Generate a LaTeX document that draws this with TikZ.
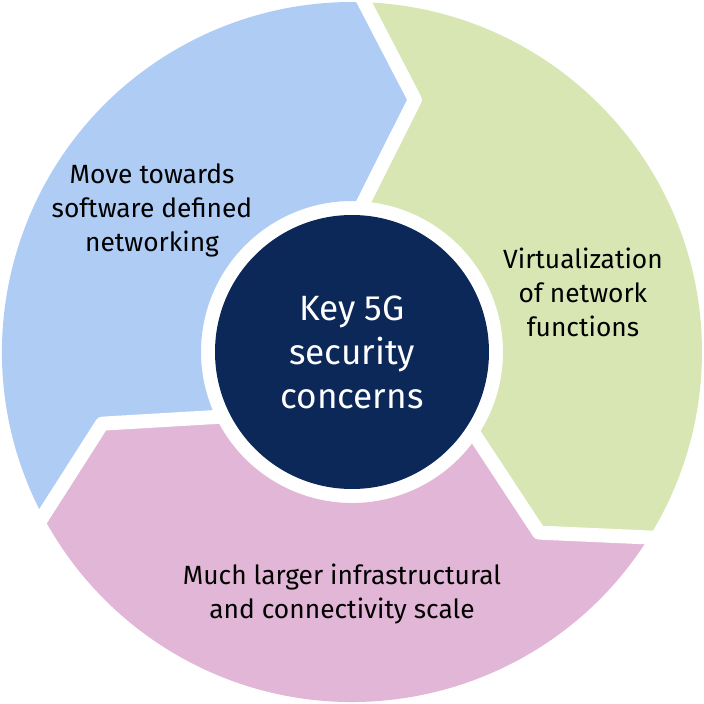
\documentclass[tikz,border=0pt]{standalone}
\usepackage{fontspec}
\setmainfont{Fira Sans}
\usetikzlibrary{math,calc}
\definecolor{myblue}{RGB}{174,204,244}
\definecolor{mygreen}{RGB}{216,230,180}
\definecolor{mypink}{RGB}{226,182,214}
\definecolor{mynavy}{RGB}{11,40,88}

\begin{document}
\begin{tikzpicture}[
  label/.style={align=center, font=\fontsize{15}{19.35}\selectfont},
  hub/.style={circle, fill=mynavy, text=white, align=center, inner sep=0pt,
    font=\fontsize{20}{25}\selectfont}]
\tikzmath{
\Ro=7.0;
\Ri=3.02;
\Rt=5.2;
\Rc=2.74;
\wgap=0.28;
}
\useasboundingbox (-7.04,-7.04) rectangle (7.04,7.04);
%ring
\fill[myblue] (208:\Ro) arc (208:88:\Ro) -- (76:\Rt) -- (85.5:\Ri) arc (85.5:205.5:\Ri) -- (196:\Rt) -- cycle;
\fill[mygreen] (88:\Ro) arc (88:-32:\Ro) -- (-44:\Rt) -- (-34.5:\Ri) arc (-34.5:85.5:\Ri) -- (76:\Rt) -- cycle;
\fill[mypink] (-32:\Ro) arc (-32:-152:\Ro) -- (-164:\Rt) -- (-154.5:\Ri) arc (-154.5:-34.5:\Ri) -- (-44:\Rt) -- cycle;

%gaps between the arrows
\foreach \a in {0,120,240}{
  \coordinate (in) at (85.5-\a:\Ri);
  \coordinate (tip) at (76-\a:\Rt);
  \coordinate (out) at (88-\a:\Ro);
  \draw[white, line width=\wgap*1cm, line join=round] ($(tip)!1.3!(in)$) -- (tip) -- ($(tip)!1.3!(out)$);
}

\node[hub, minimum size=2*\Rc cm] (key) at (0,0) {Key 5G\\security\\concerns};
\node[label] (sdn) at (-4.0,2.84) {Move towards\\software defined\\networking};
\node[label] (nfv) at (4.62,1.2) {Virtualization\\of network\\functions};
\node[label] (scale) at (-0.2,-4.84) {Much larger infrastructural\\and connectivity scale};
\end{tikzpicture}
\end{document}
